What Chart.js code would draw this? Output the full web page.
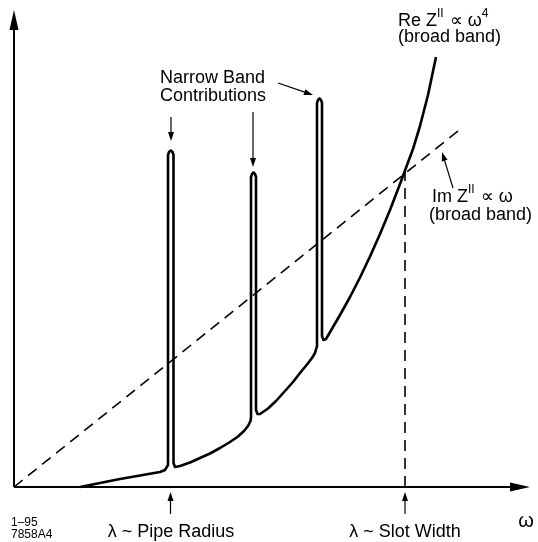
<!DOCTYPE html>
<html>
<head>
<meta charset="utf-8">
<script src="https://cdn.jsdelivr.net/npm/chart.js@4/dist/chart.umd.min.js"></script>
<style>
  html, body { margin: 0; padding: 0; background: #fff; }
  #wrap { width: 538px; height: 542px; }
</style>
</head>
<body>
<div id="wrap"><canvas id="chart" width="538" height="542"></canvas></div>
<script>
// arvot luettu kuvasta (mielivaltaiset yksiköt)
const omega = [66, 106, 146, 151, 154,
  154, 155, 156.75, 158.5, 159.5, 159.5, 161, 166,
  176, 186, 196, 206, 216, 224, 230, 234, 236.5, 237,
  237, 238, 239.5, 241, 242, 242, 243.5, 246,
  254, 262, 271, 279, 286, 293, 298, 301, 303,
  303, 304, 305.5, 307, 308, 308, 309.5, 312,
  326, 336, 346, 356, 366, 376, 386, 391, 399, 406, 414, 422];
const reZ = [0, 8, 15, 17, 22,
  332, 335, 336.5, 335, 332, 24, 20, 21,
  24.5, 29, 33.5, 39, 45, 50.5, 56, 61, 66, 70,
  310, 313, 314.5, 313, 310, 77, 73, 73,
  78.5, 86, 96, 105, 114, 122.5, 129, 134, 141,
  384, 387, 388.5, 387, 384, 151, 147, 148,
  172, 190, 209.5, 230.5, 253, 277, 303, 316.5, 338, 361, 392, 430];

// Im Z suora ja pystyviiva (slot width)
const imOmega = [0, 444];
const imZ = [0, 356];
const slotOmega = [391, 391];
const slotZ = [0, 315];

const xMax = 516;
const yMax = 477;

const toPoints = (xs, ys) => xs.map((x, i) => ({ x: x, y: ys[i] }));

const FONT = '"Liberation Sans", Arial, Helvetica, sans-serif';

// piirretään teksti jossa voi olla yläindeksejä
const drawRuns = (ctx, runs, x, y, size) => {
  let cx = x;
  runs.forEach(r => {
    const s = r.sup ? Math.round(size * 0.66) : size;
    ctx.font = `${s}px ${FONT}`;
    ctx.fillText(r.t, cx, r.sup ? y - size * 0.38 : y);
    cx += ctx.measureText(r.t).width + (r.sup ? 1 : 0);
  });
};

const arrow = (ctx, x1, y1, x2, y2, len, half) => {
  const a = Math.atan2(y2 - y1, x2 - x1);
  ctx.beginPath();
  ctx.moveTo(x1, y1);
  ctx.lineTo(x2 - Math.cos(a) * len * 0.8, y2 - Math.sin(a) * len * 0.8);
  ctx.stroke();
  ctx.beginPath();
  ctx.moveTo(x2, y2);
  ctx.lineTo(x2 - Math.cos(a) * len - Math.sin(a) * half, y2 - Math.sin(a) * len + Math.cos(a) * half);
  ctx.lineTo(x2 - Math.cos(a) * len + Math.sin(a) * half, y2 - Math.sin(a) * len - Math.cos(a) * half);
  ctx.closePath();
  ctx.fill();
};

const decorations = {
  id: 'decorations',
  afterDatasetsDraw(chart) {
    const ctx = chart.ctx;
    const xs = chart.scales.x;
    const ys = chart.scales.y;
    const x0 = xs.getPixelForValue(0);
    const y0 = ys.getPixelForValue(0);
    ctx.save();
    ctx.fillStyle = '#000';
    ctx.strokeStyle = '#000';

    // akselit nuolineen
    ctx.lineWidth = 2;
    arrow(ctx, x0, y0, x0, ys.getPixelForValue(yMax), 20, 4.5);
    arrow(ctx, x0, y0, xs.getPixelForValue(xMax), y0, 20, 4.5);

    // nuolet kapeille piikeille
    ctx.lineWidth = 1.2;
    arrow(ctx, 171, 117, 171, 141, 9, 3);
    arrow(ctx, 253, 112, 253, 167, 9, 3);
    arrow(ctx, 278, 83, 313, 95, 9, 3);
    arrow(ctx, 453, 188, 442, 152, 9, 3);
    // alanuolet
    arrow(ctx, xs.getPixelForValue(156.5), 514, xs.getPixelForValue(156.5), 492, 9, 3);
    arrow(ctx, xs.getPixelForValue(391), 514, xs.getPixelForValue(391), 492, 9, 3);

    // tekstit
    ctx.textBaseline = 'middle';
    ctx.textAlign = 'left';
    ctx.font = `18px ${FONT}`;
    ctx.fillText('Narrow Band', 160, 78);
    ctx.fillText('Contributions', 160, 96);
    drawRuns(ctx, [{ t: 'Re Z' }, { t: 'II', sup: true }, { t: ' \u221D \u03C9' }, { t: '4', sup: true }], 398, 21, 18);
    ctx.font = `18px ${FONT}`;
    ctx.fillText('(broad band)', 398, 37);
    drawRuns(ctx, [{ t: 'Im Z' }, { t: 'II', sup: true }, { t: ' \u221D \u03C9' }], 432, 197, 18);
    ctx.font = `18px ${FONT}`;
    ctx.fillText('(broad band)', 429, 215);

    ctx.textAlign = 'center';
    ctx.fillText('\u03BB ~ Pipe Radius', 171, 532);
    ctx.fillText('\u03BB ~ Slot Width', 405, 532);
    ctx.font = `20px ${FONT}`;
    ctx.fillText('\u03C9', 526, 521);

    ctx.textAlign = 'left';
    ctx.font = `12px ${FONT}`;
    ctx.fillText('1\u201395', 11, 523);
    ctx.fillText('7858A4', 11, 535);
    ctx.restore();
  }
};

new Chart(document.getElementById('chart'), {
  type: 'scatter',
  data: {
    datasets: [
      {
        label: 'Re Z',
        data: toPoints(omega, reZ),
        showLine: true,
        borderColor: '#000',
        borderWidth: 2.6,
        pointRadius: 0,
        tension: 0,
        borderJoinStyle: 'round',
        clip: 10
      },
      {
        label: 'Im Z',
        data: toPoints(imOmega, imZ),
        showLine: true,
        borderColor: '#000',
        borderWidth: 1.6,
        borderDash: [11, 7],
        pointRadius: 0,
        clip: 10
      },
      {
        label: 'Slot width',
        data: toPoints(slotOmega, slotZ),
        showLine: true,
        borderColor: '#000',
        borderWidth: 1.6,
        borderDash: [11, 7],
        pointRadius: 0,
        clip: 10
      }
    ]
  },
  options: {
    responsive: false,
    animation: false,
    layout: { padding: { left: 14, right: 8, top: 10, bottom: 55 } },
    plugins: { legend: { display: false }, tooltip: { enabled: false } },
    scales: {
      x: { type: 'linear', min: 0, max: xMax, display: false },
      y: { type: 'linear', min: 0, max: yMax, display: false }
    }
  },
  plugins: [decorations]
});
</script>
</body>
</html>
